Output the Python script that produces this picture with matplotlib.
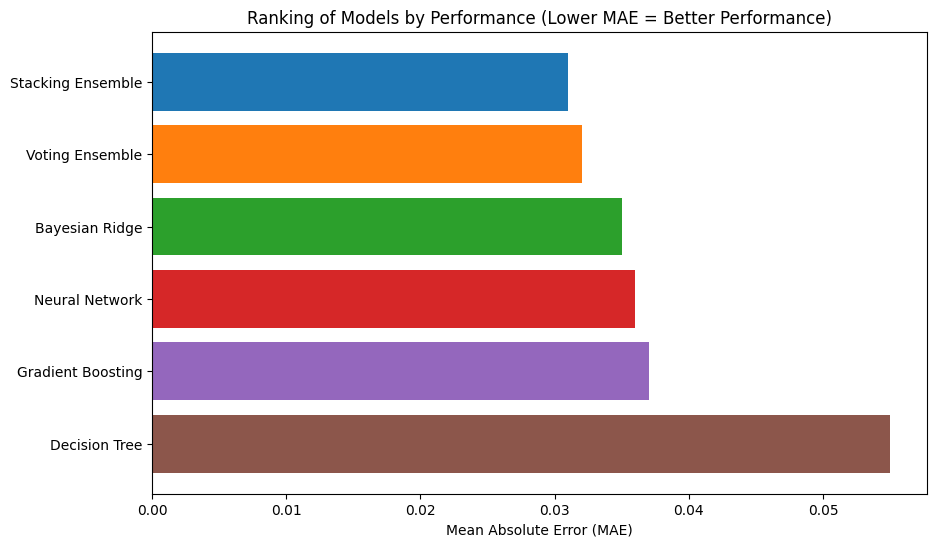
import matplotlib
matplotlib.use("Agg")
import matplotlib.pyplot as plt

models = ["Stacking Ensemble", "Voting Ensemble", "Bayesian Ridge",
          "Neural Network", "Gradient Boosting", "Decision Tree"]
mae = [0.031, 0.032, 0.035, 0.036, 0.037, 0.055]
colors = ["tab:blue", "tab:orange", "tab:green", "tab:red", "tab:purple", "tab:brown"]

fig, ax = plt.subplots(figsize=(10, 6))

ax.barh(models, mae, color=colors)
ax.invert_yaxis()

ax.set_xlabel("Mean Absolute Error (MAE)")
ax.set_title("Ranking of Models by Performance (Lower MAE = Better Performance)")

fig.savefig("out.png", dpi=100, bbox_inches="tight")
